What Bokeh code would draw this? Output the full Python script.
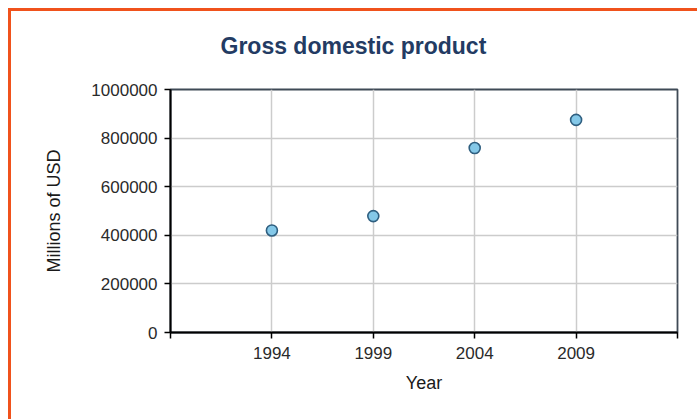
from bokeh.plotting import figure
from bokeh.models import Range1d, FixedTicker, NumeralTickFormatter, Title
from bokeh.embed import file_html
from bokeh.resources import INLINE

# Data
years = [1994, 1999, 2004, 2009]
gdp = [420000, 479000, 759000, 875000]
x_ticks = [1989, 1994, 1999, 2004, 2009, 2014]
y_ticks = [0, 200000, 400000, 600000, 800000, 1000000]
title_text = "Gross domestic product"
x_label = "Year"
y_label = "Millions of USD"

FONT = "Liberation Sans"

p = figure(width=686, height=408, output_backend="svg", toolbar_location=None,
           x_range=Range1d(1989, 2014), y_range=Range1d(0, 1000000),
           min_border_left=159, min_border_right=23, min_border_top=78, min_border_bottom=90,
           title=title_text)
p.styles = {"border-left": "3px solid #F0521C", "border-top": "3px solid #F0521C",
            "box-sizing": "content-box", "margin-left": "8px", "margin-top": "8px"}

# spacer between frame and title
spacer = Title(text=" ", text_font_size="1px", standoff=28)
p.add_layout(spacer, "above")

p.title.align = "left"
p.title.offset = 50
p.title.standoff = 0
p.title.text_font = FONT
p.title.text_font_size = "23px"
p.title.text_font_style = "bold"
p.title.text_color = "#233B63"

p.background_fill_color = "white"
p.border_fill_color = "white"
p.outline_line_color = "#3f4a56"
p.outline_line_width = 1.8

p.scatter(years, gdp, size=11, marker="circle", fill_color="#84C8E8",
          line_color="#2F5F80", line_width=1.6)

xa = p.xaxis[0]
xa.ticker = FixedTicker(ticks=x_ticks)
xa.major_label_overrides = {1989: "", 2014: ""}
ya = p.yaxis[0]
ya.ticker = FixedTicker(ticks=y_ticks)
ya.formatter = NumeralTickFormatter(format="0")

for ax in (xa, ya):
    ax.axis_line_color = "black"
    ax.axis_line_width = 2
    ax.major_tick_line_color = "black"
    ax.major_tick_line_width = 1.5
    ax.major_tick_in = 0
    ax.major_tick_out = 6
    ax.minor_tick_line_color = None
    ax.major_label_text_font = FONT
    ax.major_label_text_font_size = "17px"
    ax.major_label_text_color = "#2a2a2a"
    ax.axis_label_text_font = FONT
    ax.axis_label_text_font_size = "18px"
    ax.axis_label_text_font_style = "normal"
    ax.axis_label_text_color = "#1a1a1a"

xa.major_label_standoff = 8
xa.axis_label = x_label
xa.axis_label_standoff = 11
ya.major_label_standoff = 7
ya.axis_label = y_label
ya.axis_label_standoff = 24
ya.major_label_orientation = "horizontal"

for g in (p.xgrid[0], p.ygrid[0]):
    g.grid_line_color = "#cccccc"
    g.grid_line_width = 1.5
p.xgrid[0].ticker = FixedTicker(ticks=years)
p.ygrid[0].ticker = FixedTicker(ticks=y_ticks)

open("out.html", "w").write(file_html(p, INLINE))
